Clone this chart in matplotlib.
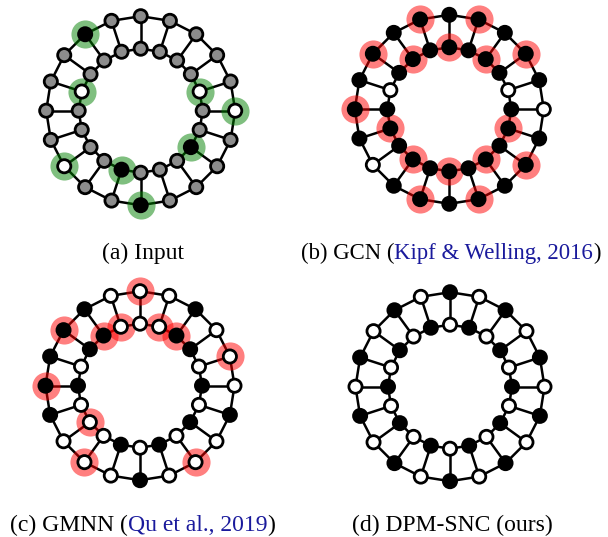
import numpy as np
import matplotlib
matplotlib.use('Agg')
import matplotlib.pyplot as plt
from matplotlib.collections import LineCollection

plt.rcParams['font.family'] = ['Liberation Serif', 'DejaVu Serif']

# node states per panel: B = black, W = white, G = gray (unlabeled)
# index 0 is the top node, going clockwise; 20 outer + 20 inner nodes
n_nodes = 20

input_outer = "GGGGGWGGGGBGGWGGGGBG"
input_inner = "GGGGWGGBGGGBGGGGWGGG"
input_halo_outer = [5, 10, 13, 18]
input_halo_inner = [4, 7, 11, 16]

gcn_outer = "BBBBBWBBBBBBBWBBBBBB"
gcn_inner = "BBBBWBBBBBBBBBBBWBBB"
gcn_halo_outer = [1, 3, 7, 9, 11, 15, 17, 19]
gcn_halo_inner = [0, 2, 6, 8, 10, 12, 14, 18]

gmnn_outer = "WWBWWWBWWWBWWWBBBBBW"
gmnn_inner = "WWBBWBWBWBWBWWWBWBBW"
gmnn_halo_outer = [0, 4, 8, 12, 15, 17]
gmnn_halo_inner = [1, 2, 13, 18, 19]

dpm_outer = "BWBWBWBWBWBWBWBWBWBW"
dpm_inner = "WBWBWBWBWBWBWBWBWBWB"
dpm_halo_outer = []
dpm_halo_inner = []

fill = {'B': 'black', 'W': 'white', 'G': '#8c8c8c'}
W, H = 608, 537
R_OUT, R_IN = 94.5, 62


def draw_graph(ax, outer, inner, halo_out, halo_in, halo_color):
    ang = np.deg2rad(90 - 360 / n_nodes * np.arange(n_nodes))
    xo, yo = R_OUT * np.cos(ang), R_OUT * np.sin(ang)
    xi, yi = R_IN * np.cos(ang), R_IN * np.sin(ang)

    segs = []
    for k in range(n_nodes):
        j = (k + 1) % n_nodes
        segs.append([(xo[k], yo[k]), (xo[j], yo[j])])
        segs.append([(xi[k], yi[k]), (xi[j], yi[j])])
        segs.append([(xo[k], yo[k]), (xi[k], yi[k])])
    ax.add_collection(LineCollection(segs, colors='black', linewidths=1.8, zorder=1))

    hx = list(xo[halo_out]) + list(xi[halo_in])
    hy = list(yo[halo_out]) + list(yi[halo_in])
    if hx:
        ax.scatter(hx, hy, s=410, color=halo_color, alpha=0.5, linewidths=0, zorder=2)

    ax.scatter(xo, yo, s=90, c=[fill[c] for c in outer], edgecolors='black',
               linewidths=2.0, zorder=3)
    ax.scatter(xi, yi, s=90, c=[fill[c] for c in inner], edgecolors='black',
               linewidths=2.0, zorder=3)


fig = plt.figure(figsize=(W / 100, H / 100), dpi=100)

panels = [
    ((140.7, 110.7), input_outer, input_inner, input_halo_outer, input_halo_inner, 'green'),
    ((449.3, 109.3), gcn_outer, gcn_inner, gcn_halo_outer, gcn_halo_inner, 'red'),
    ((140.0, 385.7), gmnn_outer, gmnn_inner, gmnn_halo_outer, gmnn_halo_inner, 'red'),
    ((450.0, 386.7), dpm_outer, dpm_inner, dpm_halo_outer, dpm_halo_inner, 'red'),
]
half = 130
for (cx, cy), o, i, ho, hi, hc in panels:
    ax = fig.add_axes([(cx - half) / W, 1 - (cy + half) / H, 2 * half / W, 2 * half / H])
    ax.set_xlim(-half, half)
    ax.set_ylim(-half, half)
    ax.axis('off')
    draw_graph(ax, o, i, ho, hi, hc)

# captions (pieces in black / citation blue)
cap = fig.add_axes([0, 0, 1, 1])
cap.set_xlim(0, W)
cap.set_ylim(H, 0)
cap.axis('off')
cap.patch.set_alpha(0)

blue = '#1a1a9c'
captions = [
    ((102, 259), 17, [("(a) Input", 'black')]),
    ((301, 259), 16.4, [("(b) GCN (", 'black'), ("Kipf & Welling, 2016", blue), (")", 'black')]),
    ((10, 531), 17, [("(c) GMNN (", 'black'), ("Qu et al., 2019", blue), (")", 'black')]),
    ((352, 531), 17, [("(d) DPM-SNC (ours)", 'black')]),
]
for (x, y), fs, pieces in captions:
    prev = None
    for txt, col in pieces:
        if prev is None:
            prev = cap.annotate(txt, xy=(x, y), xycoords='data', color=col,
                                fontsize=fs, ha='left', va='baseline')
        else:
            prev = cap.annotate(txt, xy=(1, y), xycoords=(prev, 'data'), color=col,
                                fontsize=fs, ha='left', va='baseline')

fig.savefig('out.png', dpi=100)
